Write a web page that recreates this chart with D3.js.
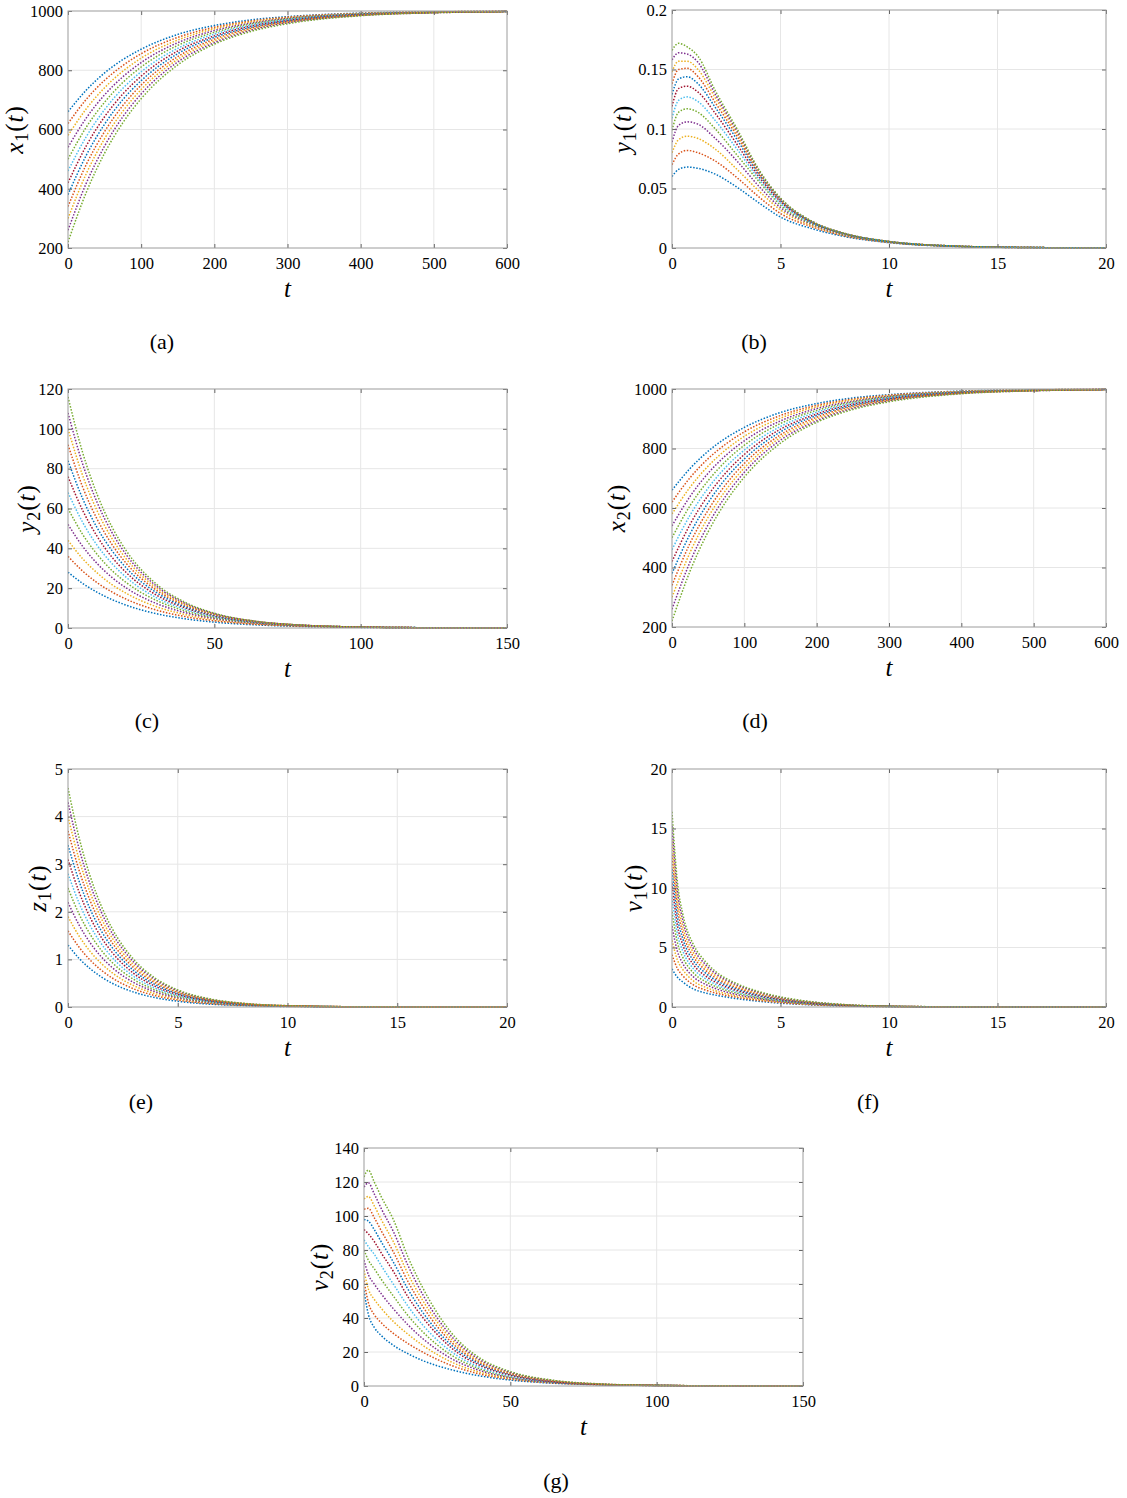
<!DOCTYPE html>
<html><head><meta charset="utf-8">
<script src="https://cdn.jsdelivr.net/npm/d3@7/dist/d3.min.js"></script>
<style>body{margin:0;background:#fff}</style>
</head><body>
<svg id="chart" width="1127" height="1498"></svg>
<script>
// MATLAB default color order
const colorOrder = ["#0072BD","#D95319","#EDB120","#7E2F8E","#77AC30","#4DBEEE","#A2142F"];

// ---- (a) x1(t) and (d) x2(t) ----
const tX = [0,25,50,75,100,150,200,250,300,400,500,600];
const x1Curves = [
 [660,733,791,836,871,921,951,970,981,993,997,999],
 [620,702,766,816,856,911,945,966,979,992,997,999],
 [580,670,741,797,841,902,940,963,977,991,997,999],
 [540,639,717,778,826,893,934,959,975,990,996,999],
 [500,608,692,759,811,884,928,956,973,990,996,998],
 [460,576,667,739,795,874,922,952,971,989,996,998],
 [420,545,643,720,780,865,916,949,968,988,995,998],
 [380,513,618,701,765,856,911,945,966,987,995,998],
 [340,482,593,681,750,846,905,942,964,986,995,998],
 [300,451,569,662,735,837,899,938,962,986,995,998],
 [260,419,544,643,720,828,893,935,960,985,994,998],
 [220,388,520,623,704,818,888,931,957,984,994,998]
];
const x2Curves = x1Curves;

// ---- (b) y1(t) ----
const tY1 = [0,0.3,0.7,1.2,2,3,4,5,6.5,8,10,13,16,20];
const y1Curves = [
 [0.060,0.066,0.068,0.067,0.062,0.051,0.038,0.026,0.016,0.0095,0.0045,0.0013,0.0004,0.0001],
 [0.070,0.079,0.082,0.080,0.073,0.059,0.043,0.029,0.0175,0.010,0.0047,0.0014,0.0004,0.0001],
 [0.080,0.091,0.094,0.092,0.083,0.066,0.048,0.032,0.0185,0.0105,0.0049,0.0014,0.0004,0.0001],
 [0.089,0.103,0.106,0.104,0.092,0.073,0.052,0.034,0.0195,0.011,0.0050,0.0015,0.0004,0.0001],
 [0.099,0.114,0.117,0.114,0.100,0.078,0.056,0.036,0.020,0.0113,0.0051,0.0015,0.0005,0.0001],
 [0.109,0.124,0.127,0.123,0.107,0.083,0.058,0.0375,0.0205,0.0115,0.0052,0.0016,0.0005,0.0001],
 [0.119,0.134,0.136,0.131,0.113,0.087,0.060,0.039,0.021,0.0117,0.0053,0.0016,0.0005,0.0001],
 [0.129,0.142,0.144,0.138,0.118,0.091,0.062,0.040,0.0213,0.0118,0.0054,0.0016,0.0005,0.0001],
 [0.138,0.150,0.151,0.144,0.122,0.094,0.063,0.0405,0.0215,0.0119,0.0054,0.0017,0.0005,0.0001],
 [0.148,0.157,0.157,0.150,0.126,0.096,0.064,0.041,0.0217,0.012,0.0055,0.0017,0.0005,0.0001],
 [0.158,0.164,0.163,0.156,0.129,0.098,0.065,0.0415,0.0219,0.012,0.0055,0.0017,0.0005,0.0001],
 [0.166,0.172,0.169,0.161,0.132,0.100,0.066,0.042,0.022,0.012,0.0055,0.0017,0.0005,0.0001]
];

// ---- (c) y2(t) ----
const tY2 = [0,5,10,15,20,30,40,50,65,80,100,125,150];
const y2Curves = [
 [28,22.4,17.9,14.3,11.4,7.25,4.62,2.94,1.50,0.76,0.31,0.10,0.03],
 [36,28.6,22.7,18.1,14.4,9.08,5.74,3.63,1.83,0.91,0.37,0.12,0.04],
 [44,34.8,27.6,21.8,17.3,10.8,6.77,4.24,2.10,1.04,0.41,0.13,0.04],
 [52,41.0,32.3,25.4,20.0,12.4,7.72,4.79,2.34,1.14,0.44,0.13,0.04],
 [60,47.0,36.9,28.9,22.7,14.0,8.59,5.28,2.55,1.23,0.46,0.14,0.04],
 [68,53.1,41.4,32.4,25.3,15.4,9.38,5.73,2.73,1.30,0.48,0.14,0.04],
 [76,59.1,45.9,35.6,27.7,16.7,10.1,6.08,2.86,1.34,0.49,0.14,0.04],
 [84,65.0,50.2,38.9,30.0,18.0,10.7,6.43,2.97,1.37,0.49,0.14,0.04],
 [92,70.8,54.5,42.0,32.3,19.2,11.4,6.73,3.07,1.40,0.49,0.13,0.04],
 [100,76.6,58.7,45.0,34.5,20.3,11.9,7.0,3.15,1.42,0.49,0.13,0.03],
 [108,82.4,62.9,48.0,36.6,21.3,12.4,7.22,3.21,1.43,0.48,0.13,0.03],
 [116,88.1,66.9,50.8,38.6,22.3,12.9,7.41,3.25,1.43,0.47,0.12,0.03]
];

// ---- (e) z1(t) ----
const tZ1 = [0,0.5,1,1.5,2,3,4,5,6.5,8,10,14,20];
const z1Curves = [
 [1.3,1.024,0.808,0.637,0.502,0.312,0.194,0.120,0.059,0.029,0.011,0.0017,0.0001],
 [1.6,1.259,0.991,0.780,0.614,0.380,0.236,0.146,0.071,0.035,0.013,0.002,0.0001],
 [1.9,1.493,1.173,0.922,0.724,0.447,0.276,0.170,0.083,0.040,0.015,0.002,0.0001],
 [2.2,1.726,1.354,1.062,0.834,0.513,0.316,0.194,0.094,0.045,0.017,0.0025,0.0001],
 [2.5,1.958,1.534,1.202,0.941,0.578,0.354,0.217,0.105,0.050,0.019,0.0027,0.0001],
 [2.8,2.190,1.713,1.340,1.048,0.641,0.392,0.240,0.115,0.055,0.021,0.003,0.0002],
 [3.1,2.421,1.890,1.476,1.153,0.703,0.429,0.261,0.125,0.059,0.022,0.003,0.0002],
 [3.4,2.651,2.067,1.611,1.257,0.764,0.464,0.282,0.134,0.063,0.023,0.003,0.0002],
 [3.7,2.880,2.242,1.746,1.359,0.824,0.500,0.303,0.143,0.067,0.025,0.0034,0.0002],
 [4.0,3.109,2.416,1.878,1.460,0.882,0.533,0.322,0.151,0.071,0.026,0.0035,0.0002],
 [4.3,3.337,2.590,2.010,1.560,0.940,0.566,0.341,0.159,0.074,0.027,0.0036,0.0002],
 [4.6,3.565,2.762,2.140,1.659,0.996,0.598,0.359,0.167,0.078,0.028,0.0037,0.0002]
];

// ---- (f) v1(t) ----
const tV1 = [0,0.25,0.5,1,1.5,2,3,4,5,6.5,8,10,14,20];
const v1Curves = [
 [3.2,2.5,2.1,1.5,1.2,1.0,0.70,0.48,0.32,0.17,0.080,0.030,0.005,0.0005],
 [4.4,3.23,2.62,1.84,1.45,1.18,0.81,0.55,0.37,0.19,0.091,0.034,0.005,0.0006],
 [5.6,3.95,3.14,2.17,1.69,1.36,0.93,0.63,0.42,0.22,0.102,0.037,0.006,0.0006],
 [6.8,4.68,3.65,2.51,1.94,1.55,1.04,0.70,0.46,0.24,0.113,0.041,0.006,0.0007],
 [8.0,5.41,4.17,2.84,2.18,1.73,1.16,0.78,0.51,0.26,0.124,0.044,0.007,0.0007],
 [9.2,6.14,4.69,3.18,2.43,1.91,1.27,0.85,0.56,0.29,0.135,0.048,0.007,0.0007],
 [10.4,6.86,5.21,3.52,2.67,2.09,1.38,0.93,0.61,0.31,0.145,0.052,0.008,0.0008],
 [11.6,7.59,5.73,3.85,2.92,2.27,1.50,1.00,0.66,0.34,0.156,0.055,0.008,0.0008],
 [12.8,8.32,6.24,4.19,3.16,2.45,1.61,1.08,0.70,0.36,0.167,0.059,0.009,0.0009],
 [14.0,9.05,6.76,4.52,3.41,2.64,1.73,1.15,0.75,0.38,0.178,0.063,0.009,0.0009],
 [15.2,9.77,7.28,4.86,3.65,2.82,1.84,1.23,0.80,0.41,0.189,0.066,0.010,0.001],
 [16.4,10.5,7.8,5.2,3.9,3.0,1.95,1.3,0.85,0.43,0.2,0.07,0.01,0.001]
];

// ---- (g) v2(t) ----
const tV2 = [0,1.5,3.5,6,10,15,20,30,40,50,65,80,100,125,150];
const v2Curves = [
 [56,42,34.5,29.5,24,19,15,9.5,5.8,3.5,1.6,0.75,0.27,0.07,0.02],
 [62,49,42,37,31,25,20,12,6.9,4.0,1.75,0.78,0.28,0.08,0.02],
 [68,57,51,45.5,38,30.5,24,14,7.9,4.5,1.9,0.82,0.29,0.08,0.02],
 [74,65.5,60,54,45.5,36,28,16,8.9,4.9,2.05,0.85,0.3,0.08,0.02],
 [80,74,69,62.5,53,41.5,32,18,9.8,5.3,2.2,0.9,0.32,0.08,0.02],
 [86,82,77.5,70.5,60,47,36,20,10.7,5.8,2.35,0.95,0.33,0.09,0.02],
 [92,89.5,85,78,67.5,52.5,40.5,22.2,11.8,6.4,2.5,1.0,0.34,0.09,0.02],
 [98,97,92,84.5,73,57,43.5,23.8,12.6,6.8,2.65,1.05,0.35,0.09,0.02],
 [104,104.5,99,91,79,61.5,47,25.5,13.4,7.2,2.8,1.1,0.36,0.09,0.02],
 [110,111.5,106,97.5,85,66,50.5,27.3,14.2,7.6,2.95,1.15,0.37,0.1,0.02],
 [117,119.5,113,104,91,71,54,29,15,8.0,3.1,1.2,0.38,0.1,0.02],
 [123,127,120,111,98,76,58,31,16,8.5,3.3,1.3,0.4,0.1,0.02]
];

// ---- tick values ----
const ticksT600 = [0,100,200,300,400,500,600];
const ticksT150 = [0,50,100,150];
const ticksT20 = [0,5,10,15,20];
const ticksX = [200,400,600,800,1000];
const ticksY1 = [0,0.05,0.1,0.15,0.2];
const ticksY2 = [0,20,40,60,80,100,120];
const ticksZ1 = [0,1,2,3,4,5];
const ticksV1 = [0,5,10,15,20];
const ticksV2 = [0,20,40,60,80,100,120,140];

const panels = [
 {t:tX, curves:x1Curves, xd:[0,600], xt:ticksT600, yd:[200,1000], yt:ticksX, name:"x", sub:"1", box:[68,11,439,237], labB:23, cap:"(a)", capPos:[162,349]},
 {t:tY1, curves:y1Curves, xd:[0,20], xt:ticksT20, yd:[0,0.2], yt:ticksY1, name:"y", sub:"1", box:[672,10,434,238], labB:631, cap:"(b)", capPos:[754,349]},
 {t:tY2, curves:y2Curves, xd:[0,150], xt:ticksT150, yd:[0,120], yt:ticksY2, name:"y", sub:"2", box:[68,389,439,239], labB:35, cap:"(c)", capPos:[147,728]},
 {t:tX, curves:x2Curves, xd:[0,600], xt:ticksT600, yd:[200,1000], yt:ticksX, name:"x", sub:"2", box:[672,389,434,238], labB:625, cap:"(d)", capPos:[755,728]},
 {t:tZ1, curves:z1Curves, xd:[0,20], xt:ticksT20, yd:[0,5], yt:ticksZ1, name:"z", sub:"1", box:[68,769,439,238], labB:46, cap:"(e)", capPos:[141,1109]},
 {t:tV1, curves:v1Curves, xd:[0,20], xt:ticksT20, yd:[0,20], yt:ticksV1, name:"v", sub:"1", box:[672,769,434,238], labB:642, cap:"(f)", capPos:[868,1109]},
 {t:tV2, curves:v2Curves, xd:[0,150], xt:ticksT150, yd:[0,140], yt:ticksV2, name:"v", sub:"2", box:[364,1148,439,238], labB:328, cap:"(g)", capPos:[556,1488]}
];

const svg = d3.select("#chart");
svg.append("rect").attr("width",1127).attr("height",1498).attr("fill","#fff");
const FONT = "Liberation Serif, Times New Roman, serif";

panels.forEach((p, k) => {
  const [L,T,W,H] = p.box;
  const x = d3.scaleLinear().domain(p.xd).range([L, L+W]);
  const y = d3.scaleLinear().domain(p.yd).range([T+H, T]);
  const g = svg.append("g");

  // grid
  g.append("g").selectAll("line").data(p.xt.slice(1,-1)).enter().append("line")
    .attr("x1", d=>x(d)).attr("x2", d=>x(d)).attr("y1", T).attr("y2", T+H)
    .attr("stroke", "#e6e6e6").attr("stroke-width", 1);
  g.append("g").selectAll("line").data(p.yt.slice(1,-1)).enter().append("line")
    .attr("y1", d=>y(d)).attr("y2", d=>y(d)).attr("x1", L).attr("x2", L+W)
    .attr("stroke", "#e6e6e6").attr("stroke-width", 1);

  // clip
  const cid = "clip"+k;
  svg.append("clipPath").attr("id", cid).append("rect")
    .attr("x", L).attr("y", T-1).attr("width", W+1).attr("height", H+2);

  const line = d3.line().x((d,i)=>x(p.t[i])).y(d=>y(d)).curve(d3.curveMonotoneX);
  const cg = g.append("g").attr("clip-path", `url(#${cid})`);
  cg.selectAll("path").data(p.curves).enter().append("path")
    .attr("d", d=>line(d)).attr("fill","none")
    .attr("stroke", (d,i)=>colorOrder[i % colorOrder.length])
    .attr("stroke-width", 1.5).attr("stroke-dasharray", "1.5,1.6");

  // axes
  const styleAxis = sel => {
    sel.attr("font-family", FONT);
    sel.select(".domain").remove();
    sel.selectAll(".tick line").attr("stroke", "#666");
    sel.selectAll("text").attr("fill","#000").attr("font-family", FONT).attr("font-size", 16.5);
  };
  g.append("g").attr("transform", `translate(0,${T+H})`)
    .call(d3.axisBottom(x).tickValues(p.xt).tickFormat(d=>String(d)).tickSize(-4).tickPadding(9.5))
    .call(styleAxis);
  g.append("g").attr("transform", `translate(0,${T})`)
    .call(d3.axisTop(x).tickValues(p.xt).tickFormat("").tickSize(-4)).call(styleAxis);
  g.append("g").attr("transform", `translate(${L},0)`)
    .call(d3.axisLeft(y).tickValues(p.yt).tickFormat(d=>String(d)).tickSize(-4).tickPadding(5))
    .call(styleAxis);
  g.append("g").attr("transform", `translate(${L+W},0)`)
    .call(d3.axisRight(y).tickValues(p.yt).tickFormat("").tickSize(-4)).call(styleAxis);

  // box
  g.append("rect").attr("x", L).attr("y", T).attr("width", W).attr("height", H)
    .attr("fill","none").attr("stroke","#9c9c9c").attr("stroke-width",1);

  // x label
  g.append("text").attr("x", L+W/2).attr("y", T+H+49).attr("text-anchor","middle")
    .attr("font-family", FONT).attr("font-style","italic").attr("font-size", 25).text("t");

  // y label
  const lab = g.append("text")
    .attr("transform", `translate(${p.labB},${T+H/2}) rotate(-90)`)
    .attr("text-anchor","middle").attr("font-family", FONT).attr("font-size", 25)
    .attr("letter-spacing", 1);
  lab.append("tspan").attr("font-style","italic").text(p.name);
  lab.append("tspan").attr("dy", 5).attr("font-size", 18).text(p.sub);
  lab.append("tspan").attr("dy", -5).text("(");
  lab.append("tspan").attr("font-style","italic").text("t");
  lab.append("tspan").text(")");

  // caption
  g.append("text").attr("x", p.capPos[0]).attr("y", p.capPos[1]).attr("text-anchor","middle")
    .attr("font-family", FONT).attr("font-size", 22).text(p.cap);
});
</script>
</body></html>
